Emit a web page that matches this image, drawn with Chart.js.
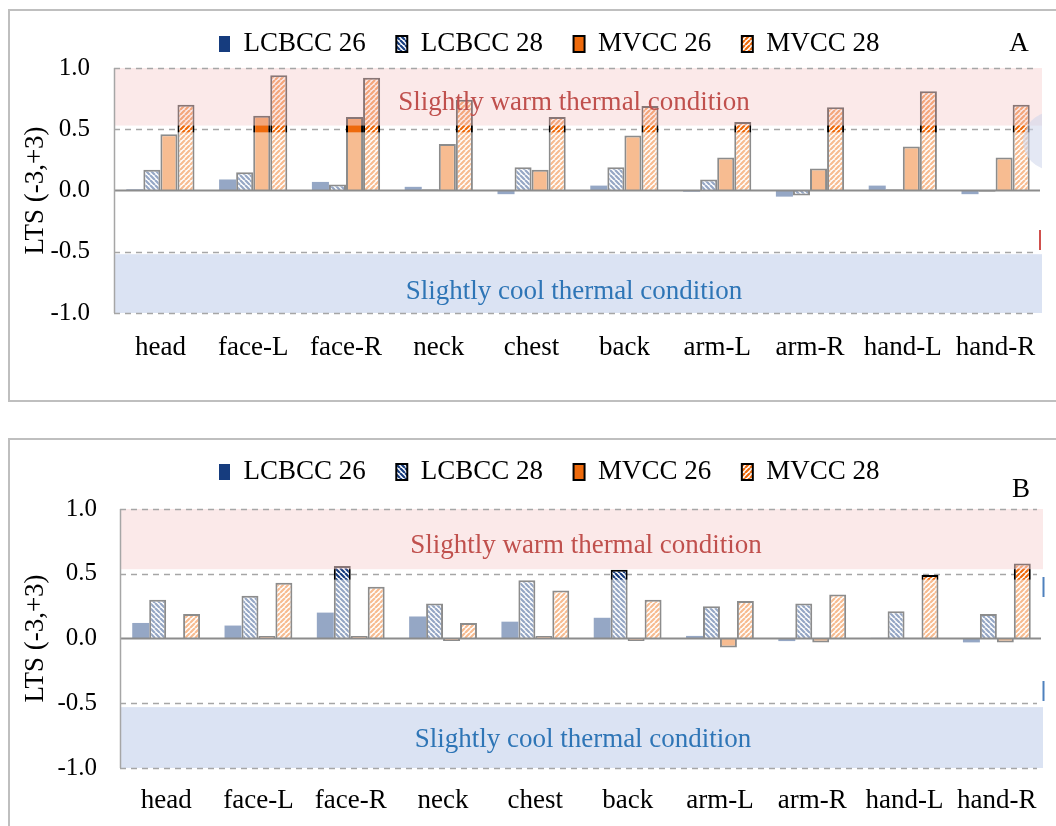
<!DOCTYPE html>
<html>
<head>
<meta charset="utf-8">
<script src="https://cdn.jsdelivr.net/npm/chart.js@4.4.1/dist/chart.umd.min.js"></script>
<style>
  html, body { margin: 0; padding: 0; background: #fff; }
  body { position: relative; width: 1056px; height: 826px; overflow: hidden; font-family: "Liberation Serif", serif; }
  .frame { position: absolute; border: 2px solid #BFBFBF; box-sizing: border-box; }
  #frameA { left: 8px; top: 9px; width: 1100px; height: 393px; }
  #frameB { left: 8px; top: 438px; width: 1100px; height: 420px; }
  canvas { position: absolute; left: 0; }
  #chartA { top: 0; }
  #chartB { top: 428px; }
</style>
</head>
<body>
<div class="frame" id="frameA"></div>
<div class="frame" id="frameB"></div>
<canvas id="chartA" width="1056" height="405"></canvas>
<canvas id="chartB" width="1056" height="398"></canvas>
<script>
// Body segments along the x axis
const bodyParts = ['head', 'face-L', 'face-R', 'neck', 'chest', 'back', 'arm-L', 'arm-R', 'hand-L', 'hand-R'];
const seriesNames = ['LCBCC 26', 'LCBCC 28', 'MVCC 26', 'MVCC 28'];
const yTickValues = [1.0, 0.5, 0.0, -0.5, -1.0];
const yAxisTitle = 'LTS (-3,+3)';
const warmLabel = 'Slightly warm thermal condition';
const coolLabel = 'Slightly cool thermal condition';

// Panel A: local thermal sensation votes
const lcbcc26A = [0.01, 0.09, 0.07, 0.03, -0.03, 0.04, -0.01, -0.05, 0.04, -0.03];
const lcbcc28A = [0.17, 0.15, 0.05, 0.01, 0.19, 0.19, 0.09, -0.04, 0.01, -0.01];
const mvcc26A  = [0.46, 0.61, 0.60, 0.38, 0.17, 0.45, 0.27, 0.18, 0.36, 0.27];
const mvcc28A  = [0.70, 0.94, 0.92, 0.74, 0.60, 0.69, 0.56, 0.68, 0.81, 0.70];

// Panel B: local thermal sensation votes
const lcbcc26B = [0.12, 0.10, 0.20, 0.17, 0.13, 0.16, 0.02, -0.02, 0.005, -0.03];
const lcbcc28B = [0.30, 0.33, 0.56, 0.27, 0.45, 0.53, 0.25, 0.27, 0.21, 0.19];
const mvcc26B  = [0.00, 0.02, 0.02, -0.02, 0.02, -0.02, -0.07, -0.03, 0.005, -0.03];
const mvcc28B  = [0.19, 0.43, 0.40, 0.12, 0.37, 0.30, 0.29, 0.34, 0.49, 0.58];

const NAVY = '#163C7E';
const ORANGE = '#EE6A0C';
const SERIF = '"Liberation Serif", "Times New Roman", serif';

function stripePattern(ctx, color, dir) {
  const s = 5;
  const tile = document.createElement('canvas');
  tile.width = s; tile.height = s;
  const g = tile.getContext('2d');
  g.fillStyle = '#ffffff';
  g.fillRect(0, 0, s, s);
  g.strokeStyle = color;
  g.lineWidth = 2.2;
  g.beginPath();
  for (let k = -1; k <= 1; k++) {
    if (dir > 0) { g.moveTo(k * s, s); g.lineTo(k * s + s, 0); }
    else { g.moveTo(k * s, 0); g.lineTo(k * s + s, s); }
  }
  g.stroke();
  return ctx.createPattern(tile, 'repeat');
}

// Shaded comfort bands, reference lines and annotations
const bandPlugin = {
  id: 'bands',
  afterLayout(chart, args, opts) {
    const lg = chart.legend;
    if (lg) { lg.left = opts.legendX - opts.legendPad; }
  },
  beforeDatasetsDraw(chart, args, opts) {
    const { ctx, chartArea: a, scales: { y } } = chart;
    ctx.save();
    ctx.strokeStyle = '#A6A6A6';
    ctx.lineWidth = 1.5;
    ctx.setLineDash([6, 5]);
    const py = Math.round(y.getPixelForValue(0.5)) + 0.5;
    ctx.beginPath(); ctx.moveTo(a.left, py); ctx.lineTo(a.right - 6, py); ctx.stroke();
    ctx.restore();
  },
  afterDatasetsDraw(chart, args, opts) {
    const { ctx, chartArea: a, scales: { y } } = chart;
    const Y = v => y.getPixelForValue(v);
    ctx.save();
    // warm band
    ctx.fillStyle = 'rgba(248,215,215,0.55)';
    ctx.fillRect(a.left, Y(1.0), a.right - a.left, Y(opts.warmEdge) - Y(1.0));
    // neutral zone wash
    ctx.fillStyle = 'rgba(255,255,255,0.55)';
    ctx.fillRect(a.left, Y(opts.gapLow), a.right - a.left, Y(opts.coolEdge) - Y(opts.gapLow));
    // cool band
    ctx.fillStyle = 'rgb(219,227,243)';
    ctx.fillRect(a.left, Y(opts.coolEdge), a.right - a.left, Y(-1.0) - Y(opts.coolEdge));

    // dashed reference lines
    ctx.strokeStyle = '#A6A6A6';
    ctx.lineWidth = 1.5;
    ctx.setLineDash([6, 5]);
    [1.0, -0.5, -1.0].forEach(v => {
      const py = Math.round(Y(v)) + 0.5;
      ctx.beginPath(); ctx.moveTo(a.left, py); ctx.lineTo(a.right - 6, py); ctx.stroke();
    });
    ctx.setLineDash([]);
    // zero line and left axis
    ctx.strokeStyle = '#8C8C8C';
    ctx.lineWidth = 2;
    ctx.beginPath(); ctx.moveTo(a.left, Y(0)); ctx.lineTo(a.right - 2, Y(0)); ctx.stroke();
    ctx.strokeStyle = '#A6A6A6';
    ctx.lineWidth = 1.5;
    ctx.beginPath(); ctx.moveTo(a.left + 0.5, Y(1.0)); ctx.lineTo(a.left + 0.5, Y(-1.0)); ctx.stroke();

    // band captions
    ctx.font = '27px ' + SERIF;
    ctx.textAlign = 'center';
    ctx.textBaseline = 'middle';
    ctx.fillStyle = '#C0504D';
    ctx.fillText(warmLabel, opts.warmX, Y(opts.warmTextY));
    ctx.fillStyle = '#2E75B6';
    ctx.fillText(coolLabel, opts.coolX, Y(opts.coolTextY));
    ctx.restore();
  },
  afterDraw(chart, args, opts) {
    const { ctx, chartArea: a } = chart;
    ctx.save();
    ctx.font = '27px ' + SERIF;
    ctx.fillStyle = '#000';
    ctx.textAlign = 'center';
    ctx.textBaseline = 'middle';
    ctx.fillText(opts.letter, opts.letterX, opts.letterY);
    // small edge marks at the right border
    if (opts.glow) {
      ctx.beginPath();
      ctx.rect(a.left, 0, a.right - a.left, chart.height);
      ctx.clip();
      ctx.fillStyle = 'rgba(205,214,235,0.55)';
      ctx.beginPath();
      ctx.arc(opts.glow[0], opts.glow[1], opts.glow[2], 0, Math.PI * 2);
      ctx.fill();
    }
    ctx.restore();
    ctx.save();
    (opts.marks || []).forEach(m => {
      ctx.strokeStyle = m.color;
      ctx.lineWidth = 2;
      ctx.beginPath(); ctx.moveTo(m.x, m.y0); ctx.lineTo(m.x, m.y1); ctx.stroke();
    });
    ctx.restore();
  }
};

function buildChart(canvasId, values, cfg) {
  const canvas = document.getElementById(canvasId);
  const ctx = canvas.getContext('2d');
  const hatchBlue = stripePattern(ctx, NAVY, -1);
  const hatchOrange = stripePattern(ctx, ORANGE, 1);
  const fills = [NAVY, hatchBlue, ORANGE, hatchOrange];
  const borders = [0, 2, 2, 2];
  const legendFont = 27;
  const legendPad = cfg.legendY - legendFont / 2;

  return new Chart(ctx, {
    type: 'bar',
    data: {
      labels: bodyParts,
      datasets: seriesNames.map((name, i) => ({
        label: name,
        data: values[i],
        backgroundColor: fills[i],
        borderColor: '#000000',
        borderWidth: borders[i],
        categoryPercentage: 0.735,
        barPercentage: 1.0
      }))
    },
    options: {
      responsive: false,
      animation: false,
      events: [],
      layout: { padding: { top: 0, left: 0, right: cfg.padRight, bottom: cfg.padBottom } },
      plugins: {
        tooltip: { enabled: false },
        legend: {
          position: 'top',
          align: 'start',
          labels: {
            boxWidth: 11,
            boxHeight: 16,
            padding: legendPad,
            color: '#000',
            font: { family: SERIF, size: legendFont }
          }
        },
        bands: Object.assign({ legendPad }, cfg.bands)
      },
      scales: {
        x: {
          grid: { display: false, drawTicks: false },
          border: { display: false },
          ticks: { color: '#000', padding: cfg.xTickPad, font: { family: SERIF, size: 27 } },
          afterFit(s) { s.height = cfg.xAxisH; }
        },
        y: {
          min: -1, max: 1,
          afterBuildTicks(s) { s.ticks = yTickValues.map(v => ({ value: v })); },
          grid: { display: false, drawTicks: false },
          border: { display: false },
          ticks: {
            color: '#000',
            padding: cfg.yTickPad,
            font: { family: SERIF, size: 25 },
            callback: v => Number(v).toFixed(1)
          },
          title: {
            display: true,
            text: yAxisTitle,
            color: '#000',
            font: { family: SERIF, size: 27 },
            padding: { top: 20, bottom: 0 }
          },
          afterFit(s) { s.width = cfg.yAxisW; }
        }
      }
    },
    plugins: [bandPlugin, {
      id: 'legendHeight',
      afterInit(chart) {
        const lg = chart.legend;
        const fit = lg.fit.bind(lg);
        lg.fit = function () { fit(); this.height = cfg.plotTop; };
      }
    }]
  });
}

buildChart('chartA', [lcbcc26A, lcbcc28A, mvcc26A, mvcc28A], {
  plotTop: 68, padRight: 14, padBottom: 32, xAxisH: 60, xTickPad: 19, yTickPad: 24, yAxisW: 114,
  legendY: 44,
  bands: {
    legendX: 219, warmEdge: 0.53, gapLow: 0.475, coolEdge: -0.52,
    warmTextY: 0.714, coolTextY: -0.83, warmX: 574, coolX: 574,
    letter: 'A', letterX: 1019, letterY: 44,
    glow: [1052, 141, 29],
    marks: [{ x: 1040, y0: 230, y1: 250, color: '#D0504D' }]
  }
});

buildChart('chartB', [lcbcc26B, lcbcc28B, mvcc26B, mvcc28B], {
  plotTop: 81, padRight: 13, padBottom: 8, xAxisH: 50, xTickPad: 17, yTickPad: 23, yAxisW: 120,
  legendY: 44,
  bands: {
    legendX: 219, warmEdge: 0.535, gapLow: 0.455, coolEdge: -0.53,
    warmTextY: 0.717, coolTextY: -0.78, warmX: 586, coolX: 583,
    letter: 'B', letterX: 1021, letterY: 62,
    marks: [
      { x: 1043.5, y0: 149, y1: 169, color: '#4F81BD' },
      { x: 1043.5, y0: 253, y1: 273, color: '#4F81BD' }
    ]
  }
});
</script>
</body>
</html>
